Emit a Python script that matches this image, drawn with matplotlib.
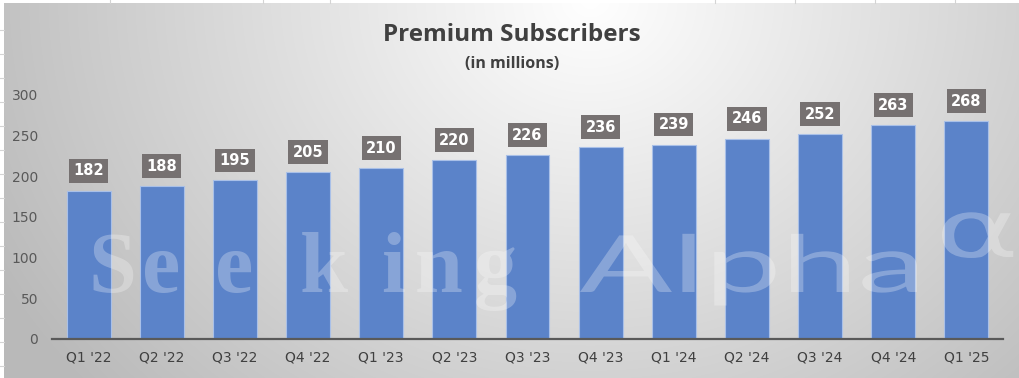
import numpy as np
import matplotlib.pyplot as plt
from matplotlib.lines import Line2D
from matplotlib.textpath import TextPath
from matplotlib.patches import PathPatch
from matplotlib.font_manager import FontProperties
from matplotlib.transforms import Affine2D

quarters = ["Q1 '22", "Q2 '22", "Q3 '22", "Q4 '22", "Q1 '23", "Q2 '23", "Q3 '23",
            "Q4 '23", "Q1 '24", "Q2 '24", "Q3 '24", "Q4 '24", "Q1 '25"]
subscribers = [182, 188, 195, 205, 210, 220, 226, 236, 239, 246, 252, 263, 268]
yticks = [0, 50, 100, 150, 200, 250, 300]

W, H = 1020, 378
fig = plt.figure(figsize=(W / 100, H / 100), dpi=100)
fig.patch.set_facecolor("white")

# spreadsheet grid peeking out at the edges
for y in range(30, 378, 24):
    fig.add_artist(Line2D([0, 4 / W], [1 - y / H, 1 - y / H], color="#d4d4d4", lw=0.8))
for x in [110, 263, 330, 715, 795, 875, 955]:
    fig.add_artist(Line2D([x / W, x / W], [1, 1 - 3 / H], color="#d4d4d4", lw=0.8))

# gradient background of the chart area
bg = fig.add_axes([4 / W, 0, 1 - 4 / W, 1 - 3 / H])
yy, xx = np.mgrid[3:H, 4:W]
r = np.sqrt((xx - 590) ** 2 + ((yy - 0) * 1.15) ** 2)
shade = np.clip(255 - 62 * r / 600, 185, 255) / 255
bg.imshow(np.dstack([shade] * 3), aspect="auto", extent=[0, 1, 0, 1], interpolation="bilinear")
bg.set_axis_off()

ax = fig.add_axes([52 / W, 39 / H, 951 / W, 244 / H])
ax.patch.set_alpha(0)
x = np.arange(len(quarters))
ax.bar(x, subscribers, width=0.6, color="#5b83c9", edgecolor="#a9c0e8", linewidth=0.8, zorder=2)
ax.set_xlim(-0.5, len(quarters) - 0.5)
ax.set_ylim(0, 300)
ax.set_yticks(yticks)
ax.set_xticks(x)
ax.set_xticklabels(quarters)
for s in ["top", "right", "left"]:
    ax.spines[s].set_visible(False)
ax.spines["bottom"].set_color("#595959")
ax.spines["bottom"].set_linewidth(1.6)
ax.tick_params(axis="y", length=0, pad=10, labelsize=10, labelcolor="#595959")
ax.tick_params(axis="x", length=0, pad=8, labelsize=10, labelcolor="#404040")

for i, v in enumerate(subscribers):
    ax.annotate(str(v), xy=(i, v), xytext=(0, 9), textcoords="offset points",
                ha="center", va="bottom", fontsize=10.5, fontweight="bold", color="white",
                bbox=dict(boxstyle="square,pad=0.3", fc="#767171", ec="none"), zorder=4)

fig.text(512 / W, 1 - 35 / H, "Premium Subscribers", ha="center", va="center",
         fontsize=17.5, fontweight="bold", color="#404040", family="Open Sans")
fig.text(512 / W, 1 - 64 / H, "(in millions)", ha="center", va="center",
         fontsize=11.5, fontweight="bold", color="#404040", family="Open Sans")

# watermark
wm = dict(color="white", alpha=0.27, ha="left", va="baseline", zorder=10)
base = 1 - 292 / H
for ch, px in zip("Seeking", [88, 142, 215, 300, 381, 415, 474]):
    fig.text(px / W, base, ch, fontsize=62, fontweight="bold", family="Liberation Serif", **wm)

word = TextPath((0, 0), "Alpha", size=79, prop=FontProperties(family="Lato"))
ext = word.get_extents()
sx = (917 - 580) / ext.width
tr = Affine2D().translate(-ext.x0, 0).scale(sx, 1.0).translate(580, H - 292)
fig.add_artist(PathPatch(word, transform=tr, fc="white", ec="none", alpha=0.27, zorder=10))

alpha_path = TextPath((0, 0), "\u03b1", size=80, prop=FontProperties(family="DejaVu Sans"))
tr = Affine2D().scale(1.6, 1.0).translate(935, H - 257)
fig.add_artist(PathPatch(alpha_path, transform=tr, fc="white", ec="none", alpha=0.27, zorder=10))

fig.savefig("out.png", dpi=100)
